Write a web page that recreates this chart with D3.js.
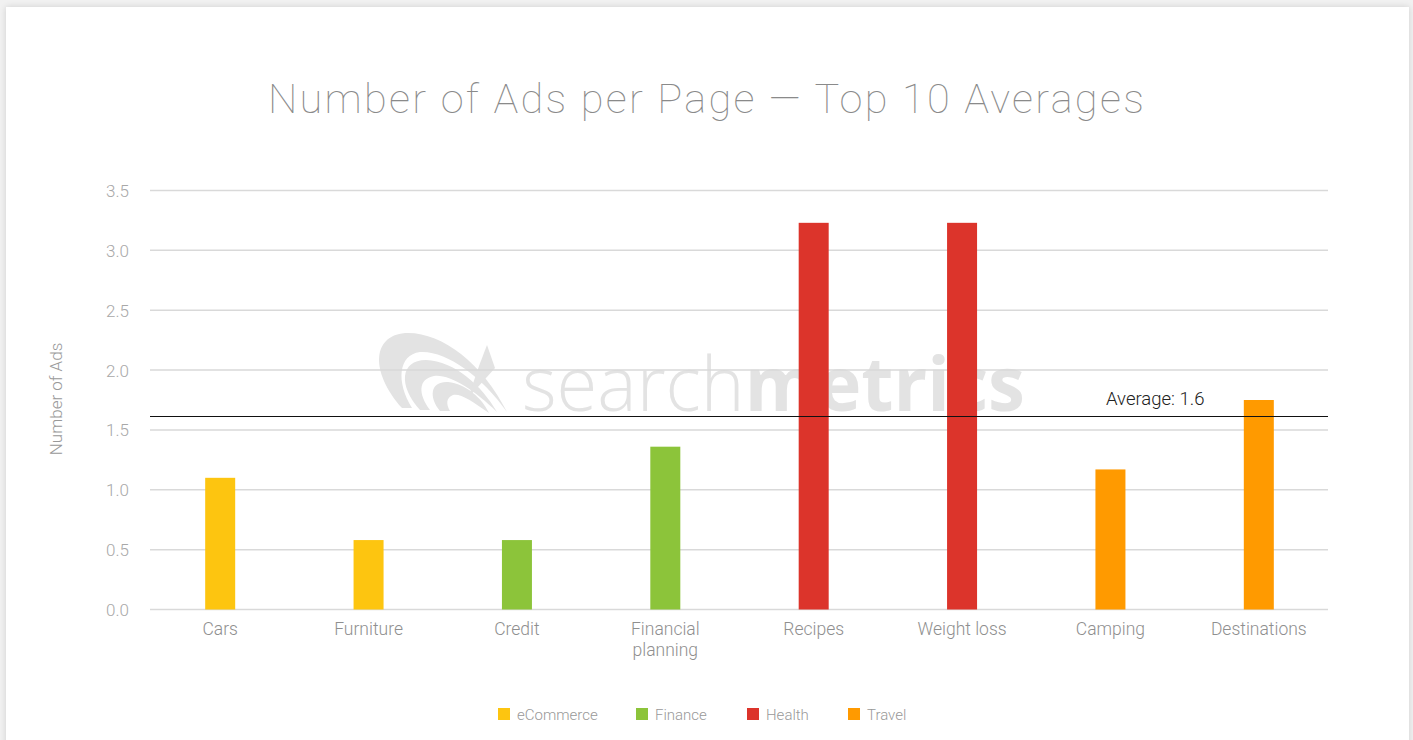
<!DOCTYPE html>
<html><head><meta charset="utf-8">
<script src="https://cdn.jsdelivr.net/npm/d3@7"></script>
<style>
html,body{margin:0;padding:0;background:#f1f1f1;overflow:hidden;}
svg{display:block;}
</style></head>
<body><svg id="c" width="1413" height="740"></svg>
<script>
const categories = ["Cars","Furniture","Credit","Financial planning","Recipes","Weight loss","Camping","Destinations"];
const groups = ["eCommerce","eCommerce","Finance","Finance","Health","Health","Travel","Travel"];
const values = [1.10, 0.58, 0.58, 1.36, 3.23, 3.23, 1.17, 1.75];
const legendGroups = ["eCommerce","Finance","Health","Travel"];
const groupColors = ["#fdc510","#8cc43a","#dc342b","#ff9a00"];
const yTicks = [0,0.5,1.0,1.5,2.0,2.5,3.0,3.5];
const averageValue = 1.62;
const averageLabel = "Average: 1.6";
const title = "Number of Ads per Page \u2014 Top 10 Averages";
const yTitle = "Number of Ads";

const svg = d3.select("#c");
const defs = svg.append("defs");
const f = defs.append("filter").attr("id","sh").attr("x","-5%").attr("y","-5%").attr("width","110%").attr("height","110%");
f.append("feGaussianBlur").attr("in","SourceAlpha").attr("stdDeviation",3);
f.append("feOffset").attr("dx",0).attr("dy",0).attr("result","b");
f.append("feComponentTransfer").append("feFuncA").attr("type","linear").attr("slope",0.15);
const fm = f.append("feMerge"); fm.append("feMergeNode"); fm.append("feMergeNode").attr("in","SourceGraphic");
svg.append("rect").attr("x",6).attr("y",7).attr("width",1403).attr("height",760).attr("fill","#fff").attr("filter","url(#sh)");

const x = d3.scaleBand().domain(categories).range([146,1333]);
const y = d3.scaleLinear().domain([0,3.5]).range([609.5,190.5]);
const color = d3.scaleOrdinal().domain(legendGroups).range(groupColors);
const gx0 = 150, gx1 = 1328;

// title
svg.append("text").attr("x",707).attr("y",113).attr("text-anchor","middle")
  .attr("font-family","Roboto").attr("font-weight",100).attr("font-size",41.5)
  .attr("fill","#8a8a8a").attr("letter-spacing",2.3).text(title);

// watermark
const wc = "#e3e3e3";
const wm = svg.append("g").attr("fill",wc);
const wt = wm.append("text").attr("x",522).attr("y",411).attr("font-family","Open Sans").attr("font-size",76)
  .attr("textLength",503).attr("lengthAdjust","spacingAndGlyphs");
wt.append("tspan").attr("font-weight",300).text("search");
wt.append("tspan").attr("font-weight",700).text("metrics");
wm.append("path").attr("d","M402,408 C370,372 372,336 405,333 C440,331 482,362 507,412 C482,376 445,350 420,352 C398,355 396,382 412,408 Z");
wm.append("path").attr("d","M420,410 C398,386 400,360 426,360 C455,361 482,386 497,412 C474,390 450,374 434,376 C418,379 418,394 430,410 Z");
wm.append("path").attr("d","M440,411 C428,396 431,381 448,382 C466,384 482,398 489,413 C472,401 460,393 453,395 C446,398 446,404 450,411 Z");
wm.append("path").attr("d","M487,345 L495,368 L468,398 L479,366 Z");

// grid
svg.append("g").selectAll("line").data(yTicks).join("line")
  .attr("x1",gx0).attr("x2",gx1).attr("y1",d=>y(d)).attr("y2",d=>y(d))
  .attr("stroke","#d9d9d9").attr("stroke-width",1.5);

// y tick labels via axis
const ya = svg.append("g").attr("transform","translate(138,0)")
  .call(d3.axisLeft(y).tickValues(yTicks).tickFormat(d3.format(".1f")).tickSize(0).tickPadding(9));
ya.select(".domain").remove();
ya.selectAll("text").attr("font-family","Roboto").attr("font-weight",300).attr("font-size",17).attr("fill","#a8a8a8").attr("dy","0.35em");

// y title
svg.append("text").attr("transform","translate(62,399) rotate(-90)").attr("text-anchor","middle")
  .attr("font-family","Roboto").attr("font-weight",300).attr("font-size",17).attr("fill","#999").text(yTitle);

// bars
const bw = 30;
svg.append("g").selectAll("rect").data(values).join("rect")
  .attr("x",(d,i)=>x(categories[i])+x.bandwidth()/2-bw/2)
  .attr("width",bw)
  .attr("y",d=>y(d)).attr("height",d=>y(0)-y(d))
  .attr("fill",(d,i)=>color(groups[i]));

// x labels
const xa = svg.append("g").attr("transform","translate(0,609)")
  .call(d3.axisBottom(x).tickSize(0).tickPadding(0));
xa.select(".domain").remove();
xa.selectAll("text").each(function(d){
  const t = d3.select(this).text("").attr("font-family","Roboto").attr("font-weight",300).attr("font-size",17.5).attr("fill","#8f8f8f").attr("y",0).attr("dy",null);
  const words = d === "Financial planning" ? ["Financial","planning"] : [d];
  words.forEach((w,k)=>t.append("tspan").attr("x",0).attr("y",26+k*21).text(w));
});

// average line
svg.append("line").attr("x1",gx0).attr("x2",gx1).attr("y1",Math.round(y(averageValue))+0.5).attr("y2",Math.round(y(averageValue))+0.5)
  .attr("stroke","#111").attr("stroke-width",1);
svg.append("text").attr("x",1106).attr("y",405).attr("font-family","Roboto").attr("font-weight",300).attr("font-size",18.5).attr("fill","#222").text(averageLabel);

// legend
const legX = [498,636,747,848];
const lg = svg.append("g").selectAll("g").data(legendGroups).join("g")
  .attr("transform",(d,i)=>`translate(${legX[i]},708)`);
lg.append("rect").attr("width",12).attr("height",12).attr("fill",d=>color(d));
lg.append("text").attr("x",19).attr("y",11.5).attr("font-family","Roboto").attr("font-weight",300).attr("font-size",15).attr("fill","#999").text(d=>d);
</script></body></html>
